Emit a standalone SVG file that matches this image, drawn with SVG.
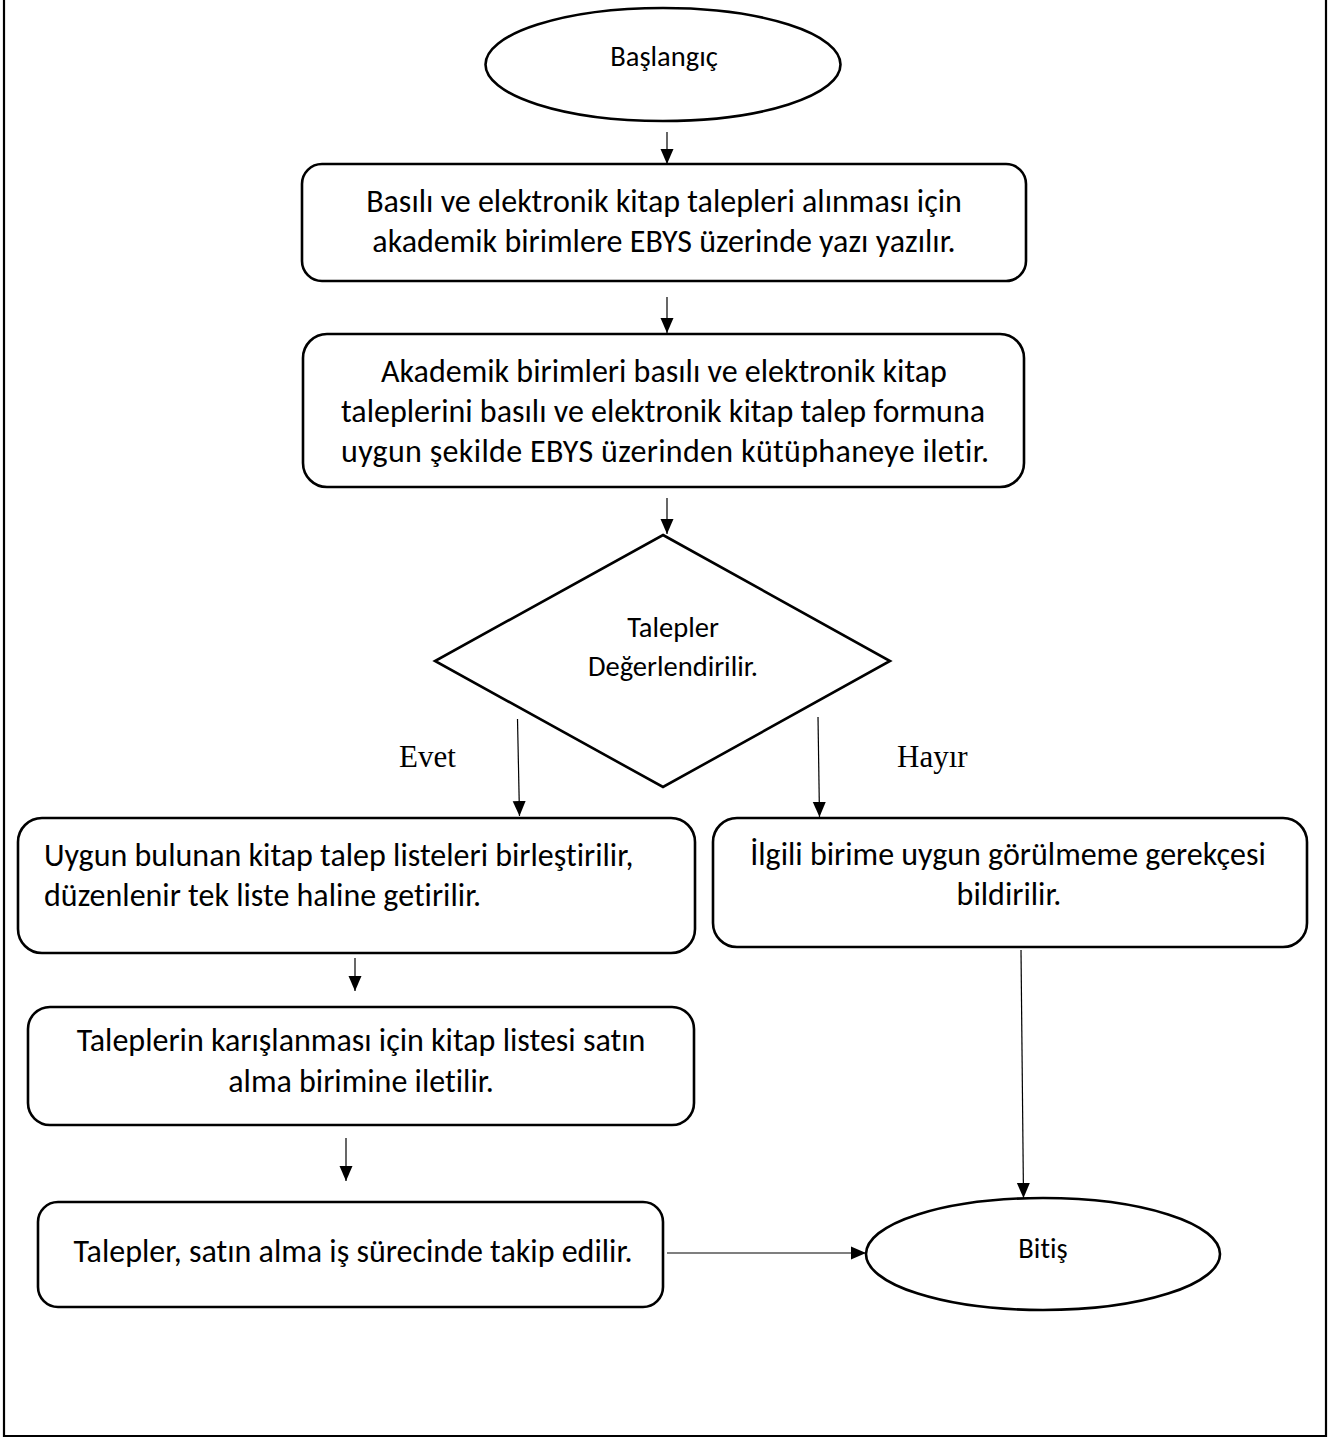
<svg xmlns="http://www.w3.org/2000/svg" width="1339" height="1439" viewBox="0 0 1339 1439">
<style>
.shape{fill:#fff;stroke:#000;stroke-width:2.6}
.t{font-family:Carlito,Lato,"Open Sans",sans-serif;font-size:32px;fill:#000;font-variant-ligatures:none}
.s{font-family:Carlito,Lato,"Open Sans",sans-serif;font-size:28.5px;fill:#000;font-variant-ligatures:none}
.m{text-anchor:middle}
.lbl{font-family:"Liberation Serif","Times New Roman",serif;font-size:31px;fill:#000}
.c{stroke:#000;stroke-width:1.2;fill:none}
.frame{stroke:#000;stroke-width:2.2;fill:none}
</style>
<defs>
<marker id="ah" markerUnits="userSpaceOnUse" markerWidth="16" markerHeight="16" viewBox="0 0 16 16" refX="15" refY="8" orient="auto">
<path d="M0,1.5 L15,8 L0,14.5 Z" fill="#000"/>
</marker>
</defs>
<rect width="1339" height="1439" fill="#fff"/>
<path class="frame" d="M4,0 V1436 H1326 V0"/>

<g id="start">
<ellipse class="shape" cx="663" cy="64.5" rx="177.5" ry="56.5"/>
<text class="s m" x="664" y="66">Başlangıç</text>
</g>

<g id="step1">
<rect class="shape" x="302" y="164" width="724" height="117" rx="20"/>
<text class="t m" x="664" y="212">Basılı ve elektronik kitap talepleri alınması için</text>
<text class="t m" x="664" y="252">akademik birimlere EBYS üzerinde yazı yazılır.</text>
</g>

<g id="step2">
<rect class="shape" x="303" y="334" width="721" height="153" rx="24"/>
<text class="t m" x="664" y="382">Akademik birimleri basılı ve elektronik kitap</text>
<text class="t m" x="663" y="422">taleplerini basılı ve elektronik kitap talep formuna</text>
<text class="t m" x="665" y="462" textLength="648">uygun şekilde EBYS üzerinden kütüphaneye iletir.</text>
</g>

<g id="decision">
<polygon class="shape" points="663,535 890,661 663,787 435,661"/>
<text class="s m" x="673" y="637">Talepler</text>
<text class="s m" x="673" y="676">Değerlendirilir.</text>
</g>

<g id="yes-box">
<rect class="shape" x="18" y="818" width="677" height="135" rx="24"/>
<text class="t" x="44" y="866">Uygun bulunan kitap talep listeleri birleştirilir,</text>
<text class="t" x="44" y="906">düzenlenir tek liste haline getirilir.</text>
</g>

<g id="no-box">
<rect class="shape" x="713" y="818" width="594" height="129" rx="24"/>
<text class="t m" x="1008" y="865">İlgili birime uygun görülmeme gerekçesi</text>
<text class="t m" x="1009" y="905">bildirilir.</text>
</g>

<g id="step3">
<rect class="shape" x="28" y="1007" width="666" height="118" rx="22"/>
<text class="t m" x="361" y="1051">Taleplerin karışlanması için kitap listesi satın</text>
<text class="t m" x="361" y="1092">alma birimine iletilir.</text>
</g>

<g id="step4">
<rect class="shape" x="38" y="1202" width="625" height="105" rx="20"/>
<text class="t m" x="353" y="1262">Talepler, satın alma iş sürecinde takip edilir.</text>
</g>

<g id="end">
<ellipse class="shape" cx="1043" cy="1254" rx="177" ry="56"/>
<text class="s m" x="1043" y="1258">Bitiş</text>
</g>

<g id="labels">
<text class="lbl" x="399" y="767">Evet</text>
<text class="lbl" x="897" y="767">Hayır</text>
</g>

<g id="connectors">
<line class="c" x1="667" y1="132" x2="667" y2="164" marker-end="url(#ah)"/>
<line class="c" x1="667" y1="297" x2="667" y2="333" marker-end="url(#ah)"/>
<line class="c" x1="667" y1="498" x2="667" y2="534" marker-end="url(#ah)"/>
<line class="c" x1="517.5" y1="719" x2="519.5" y2="816" marker-end="url(#ah)"/>
<line class="c" x1="818" y1="717" x2="819.5" y2="817" marker-end="url(#ah)"/>
<line class="c" x1="355" y1="958" x2="355" y2="991" marker-end="url(#ah)"/>
<line class="c" x1="346" y1="1138" x2="346" y2="1181" marker-end="url(#ah)"/>
<line class="c" x1="1021" y1="950" x2="1023.5" y2="1198" marker-end="url(#ah)"/>
<line class="c" x1="667" y1="1253" x2="866" y2="1253" marker-end="url(#ah)"/>
</g>
</svg>
